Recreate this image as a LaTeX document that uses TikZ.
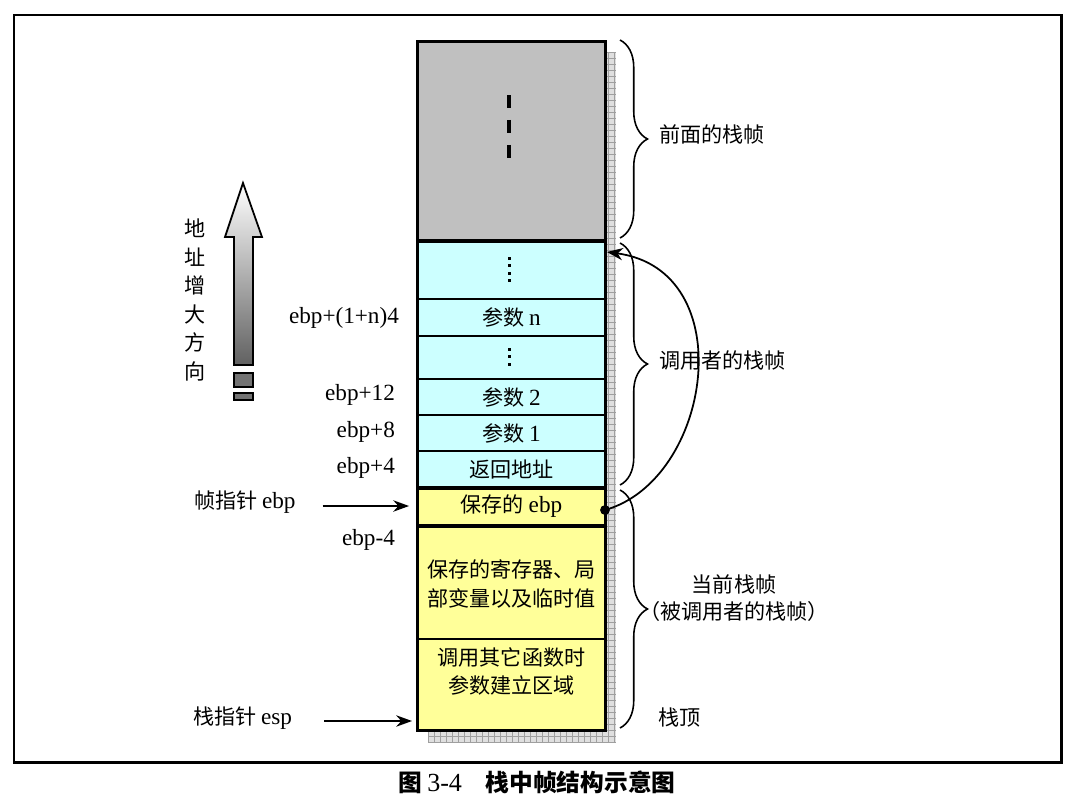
\documentclass[tikz,border=0pt]{standalone}
\usepackage{fontspec}
\setmainfont{Noto Sans CJK SC}
\newfontfamily\lat[Scale=1.1]{Liberation Serif}
\usepackage{tikz}
\usetikzlibrary{positioning, arrows.meta, calc, decorations.pathreplacing}

\definecolor{prevgray}{HTML}{C0C0C0}
\definecolor{argcyan}{HTML}{CCFFFF}
\definecolor{curyellow}{HTML}{FFFF99}

\tikzset{
  cell/.style={draw, line width=1.1pt, minimum width=3.74cm, inner sep=0pt, align=center},
  ptr/.style={-{Stealth[length=9pt,width=6.5pt]}, line width=1pt},
  lbl/.style={inner sep=1pt},
  frm/.style={decorate, decoration={brace, amplitude=0.55cm}, line width=0.9pt},
}

\begin{document}
\begin{tikzpicture}[x=0.02cm, y=-0.02cm, font=\fontsize{12}{16}\selectfont]
\useasboundingbox[fill=white] (0,0) rectangle (1076,809);
% outer frame
\draw[line width=1.7pt] (14,15) rectangle (1061,762);
% grid shadow behind the stack
\begin{scope}
  \clip (428,52) rectangle (616,742);
  \fill[gray!25] (428,52) rectangle (616,742);
  \foreach \gx in {428,434,...,616} \draw[gray!75, line width=0.4pt] (\gx,52) -- (\gx,742);
  \foreach \gy in {52,58,...,742} \draw[gray!75, line width=0.4pt] (428,\gy) -- (616,\gy);
\end{scope}
% stack cells, top to bottom
\node[cell, fill=prevgray, minimum height=3.96cm] (prev) at (511.5,141) {};
\node[cell, fill=argcyan, minimum height=1.18cm] (dotsa) at (511.5,269.5) {};
\node[cell, fill=argcyan, minimum height=0.74cm] (argn) at (511.5,317.5) {参数 {\lat n}};
\node[cell, fill=argcyan, minimum height=0.86cm] (dotsb) at (511.5,357.5) {};
\node[cell, fill=argcyan, minimum height=0.72cm] (argb) at (511.5,397) {参数 {\lat 2}};
\node[cell, fill=argcyan, minimum height=0.72cm] (arga) at (511.5,433) {参数 {\lat 1}};
\node[cell, fill=argcyan, minimum height=0.72cm] (ret) at (511.5,469) {返回地址};
\node[cell, fill=curyellow, minimum height=0.76cm] (saved) at (511.5,506) {保存的 {\lat ebp}};
\node[cell, fill=curyellow, minimum height=2.28cm] (locals) at (511.5,584) {保存的寄存器、局\\部变量以及临时值};
\node[cell, fill=curyellow, minimum height=1.82cm] (argarea) at (511.5,684.5) {};
\node[lbl, align=center] (argtext) at (511.5,671) {调用其它函数时\\参数建立区域};
% heavy outline and frame boundaries
\draw[line width=1.6pt] (prev.north west) rectangle (argarea.south east);
\draw[line width=2.2pt] (prev.south west) -- (prev.south east);
\draw[line width=2.2pt] (ret.south west) -- (ret.south east);
% elision marks
\draw[line width=2.3pt, dash pattern=on 7.4pt off 6.8pt] (509,95) -- (509,159);
\foreach \dy in {258,265.5,273,280.5} \fill (507.5,\dy-1.5) rectangle ++(3,3);
\foreach \dy in {349,356.5,364} \fill (507.5,\dy-1.5) rectangle ++(3,3);
% offsets
\node[lbl, anchor=east] (offn) at (401,318) {\lat ebp+(1+n)4};
\node[lbl, anchor=east] (offc) at (397,395) {\lat ebp+12};
\node[lbl, anchor=east] (offb) at (397,432) {\lat ebp+8};
\node[lbl, anchor=east] (offa) at (397,468) {\lat ebp+4};
\node[lbl, anchor=east] (offm) at (397,540) {\lat ebp-4};
% address direction
\node[align=center, font=\fontsize{12}{16.2}\selectfont] (dir) at (195,300) {地\\址\\增\\大\\方\\向};
\shadedraw[top color=white, bottom color=black!62, line width=1pt]
  (243,183) -- (262,237) -- (253,237) -- (253,365) -- (234,365) -- (234,237) -- (225,237) -- cycle;
\filldraw[fill=black!55, line width=0.8pt] (234,373) rectangle (253,387);
\filldraw[fill=black!55, line width=0.8pt] (234,393) rectangle (253,400);
% pointers
\node[lbl, anchor=west] (ebplbl) at (192,502) {帧指针 {\lat ebp}};
\node[lbl, anchor=west] (esplbl) at (191,718) {栈指针 {\lat esp}};
\coordinate (sptop) at (418,721);
\draw[ptr, shorten <=0.5cm, shorten >=0.16cm] (ebplbl.east |- saved.west) -- (saved.west);
\draw[ptr, shorten <=0.6cm, shorten >=0.12cm] (esplbl.east |- sptop) -- (sptop);
% saved ebp links back to caller frame
\coordinate (link) at (605,510);
\coordinate (callertop) at (607,252);
\fill (link) circle (2.8pt);
\draw[line width=1pt, -{Stealth[length=9pt,width=7pt]}] (link) .. controls (712,480) and (742,270) .. (callertop);
% frame braces
\draw[frm] (620,40) -- (620,238);
\draw[frm] (620,243) -- (620,485);
\draw[frm] (620,490) -- (620,728);
\node[lbl, anchor=west] (prevlbl) at (657,134) {前面的栈帧};
\node[lbl, anchor=west] (callerlbl) at (657,360) {调用者的栈帧};
\node[align=center, font=\fontsize{12}{15.3}\selectfont] (curlbl) at (734,598) {当前栈帧\\（被调用者的栈帧）};
\node[lbl, anchor=west] (toplbl) at (656,717) {栈顶};
% caption
\node[lbl, anchor=west, font=\fontsize{13.5}{16}\selectfont\bfseries] (cap) at (396,782) {图 {\lat\mdseries 3-4}\quad 栈中帧结构示意图};
\end{tikzpicture}
\end{document}
